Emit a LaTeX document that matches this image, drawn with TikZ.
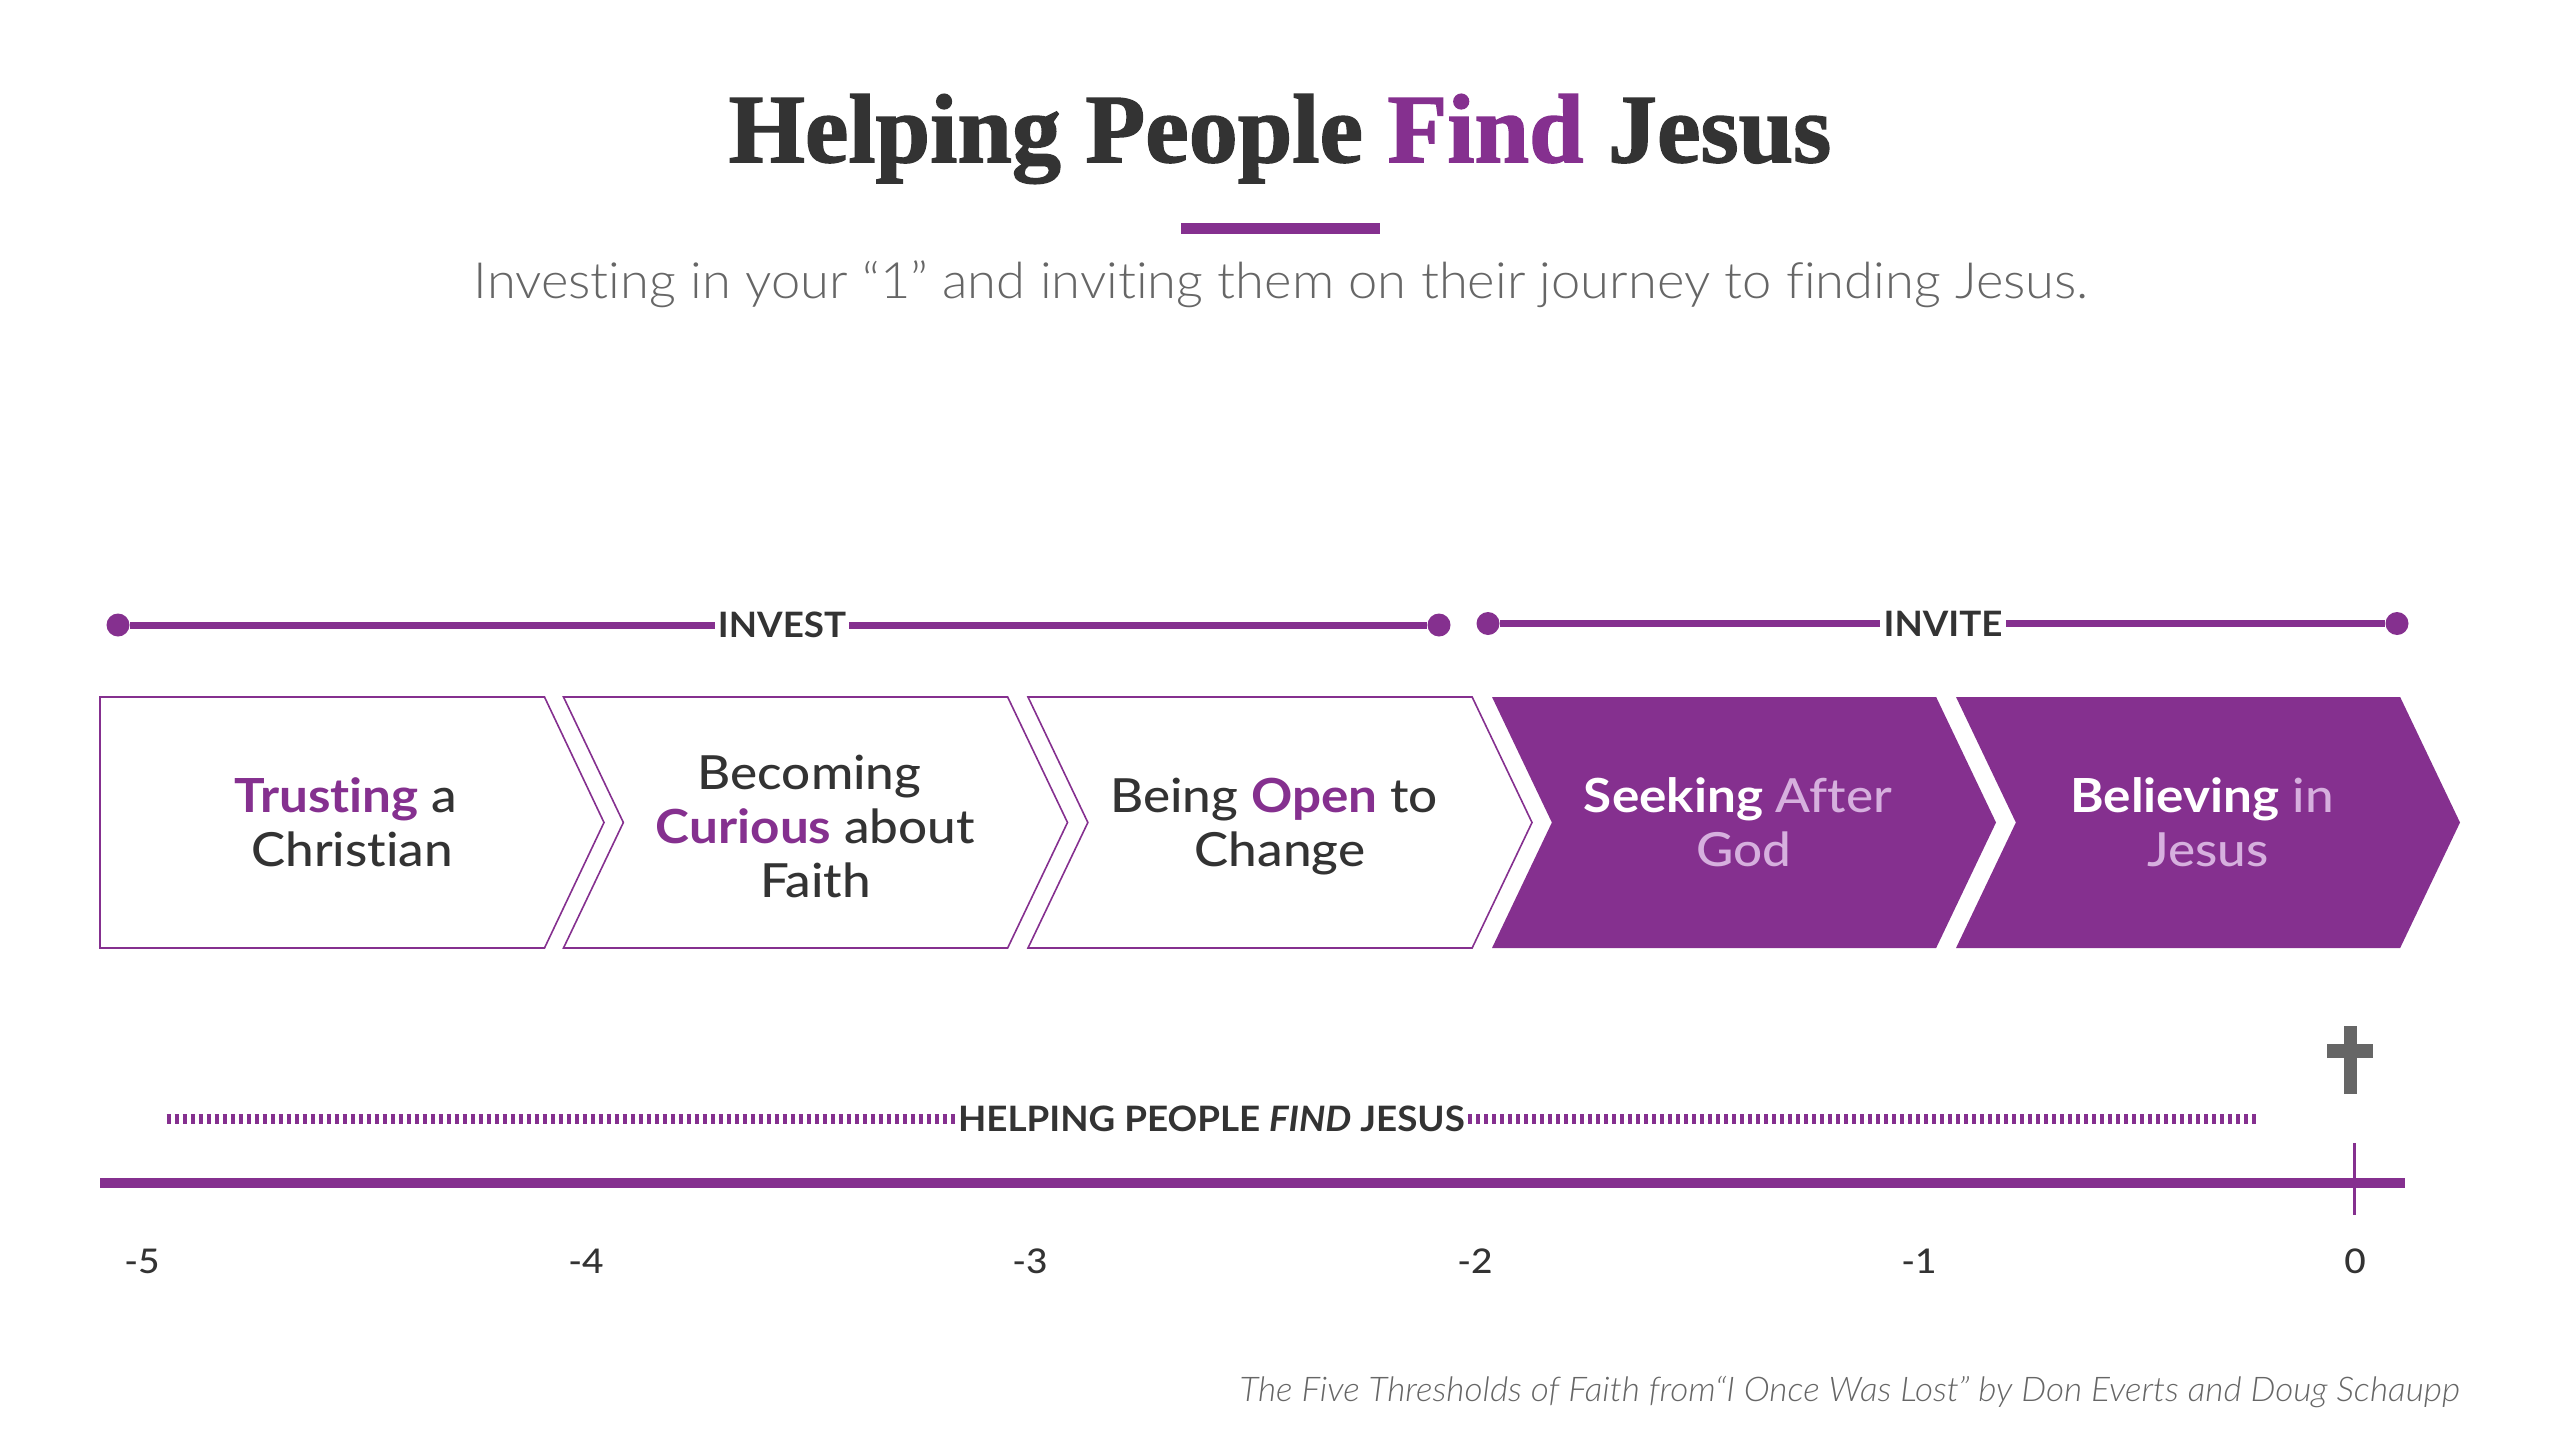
\documentclass[tikz,border=0pt]{standalone}
\usepackage{fontspec}
\usepackage{xcolor}
\usetikzlibrary{shapes,positioning}
\setmainfont{Lato}[Ligatures=NoCommon]
\newfontfamily\titlefont{Liberation Serif}[BoldFeatures={FakeBold=1.5}]
\newfontfamily\lightfont{Lato Light}[FakeStretch=1.05,Ligatures=NoCommon]
\newfontfamily\creditfont{Lato Light}[FakeStretch=1.035,Ligatures=NoCommon]
\newfontfamily\mediumfont{Lato Medium}[FakeStretch=1.09,Ligatures=NoCommon,BoldFont={Lato Bold}]
\newfontfamily\capsfont{Lato Bold}[FakeStretch=1.05,Ligatures=NoCommon]
\definecolor{faith}{HTML}{85308F}
\definecolor{pale}{HTML}{D6B0DE}
\definecolor{ink}{HTML}{333333}
\definecolor{ash}{HTML}{666666}
\newcommand{\brk}{\hspace*{6pt}\\}
\newcommand{\hi}[1]{\textcolor{faith}{\bfseries #1}}
\newcommand{\lo}[1]{\textcolor{pale}{#1}}
\tikzset{
  words/.style={inner sep=0pt,align=center,text=ink,text depth=0pt,font=\mediumfont\fontsize{23.5}{27}\selectfont},
  stage/.style={words,signal,signal to=east,signal from=west,signal pointer angle=129,minimum width=252pt,minimum height=125.5pt},
  open/.style={stage,draw=faith,line width=0.8pt},
  solid stage/.style={stage,fill=faith,text=white},
  dot/.style={circle,fill=faith,inner sep=0pt,minimum size=11.5pt},
  span/.style={faith,line width=3.5pt},
  stripes/.style={faith,line width=5pt,dash pattern=on 2pt off 2pt},
  caption/.style={inner sep=1.5pt,text=ink,font=\capsfont\fontsize{17.5}{20}\selectfont},
  tick/.style={text=ink,font=\mediumfont\fontsize{17}{20}\selectfont}
}
\begin{document}
\begin{tikzpicture}[x=0.5pt,y=-0.5pt]
    \useasboundingbox (0,0) rectangle (2560,1440);

    \node[text=ink,font=\titlefont\bfseries\fontsize{49}{55}\selectfont] (title) at (1280,139) {Helping People \textcolor{faith}{Find} Jesus};
    \node[fill=faith,inner sep=0pt,minimum width=99.5pt,minimum height=5.5pt] (rule) at (1280.5,228.5) {};
    \node[text=ash,font=\lightfont\fontsize{25}{30}\selectfont] (sub) at (1281,284.5) {Investing in your “1” and inviting them on their journey to finding Jesus.};

    \node[dot] (investl) at (118,625) {};
    \node[dot] (investr) at (1439,625) {};
    \node[caption] (invest) at (782,625) {INVEST};
    \node[dot] (invitel) at (1488,623.5) {};
    \node[dot] (inviter) at (2397,623.5) {};
    \node[caption] (invite) at (1943,623.5) {INVITE};
    \draw [span] (investl) to (invest);
    \draw [span] (invest) to (investr);
    \draw [span] (invitel) to (invite);
    \draw [span] (invite) to (inviter);

    \draw [faith,line width=0.8pt] (100,697) -- (544.5,697) -- (604,822.5) -- (544.5,948) -- (100,948) -- cycle;
    \node[words] (trust) at (352,822.5) {\hi{Trusting} a\brk Christian};
    \node[open] (curious) at (815.5,822.5) {\rule{0pt}{21pt}Becoming\brk \hi{Curious} about\brk Faith};
    \node[open] (change) at (1280,822.5) {Being \hi{Open} to\brk Change};
    \node[solid stage] (seek) at (1744,822.5) {\textbf{Seeking} \lo{After}\brk \lo{God}};
    \node[solid stage] (believe) at (2208,822.5) {\textbf{Believing} \lo{in}\brk \lo{Jesus}};

    \node[fill=ash,inner sep=0pt,minimum width=6.5pt,minimum height=34pt] (crossv) at (2350.5,1060) {};
    \node[fill=ash,inner sep=0pt,minimum width=23pt,minimum height=7pt] (crossh) at (2350,1051) {};

    \node[caption] (find) at (1211.5,1119) {HELPING PEOPLE \textit{FIND} JESUS};
    \coordinate (dashl) at (166.5,1119);
    \coordinate (dashr) at (2257,1119);
    \draw [stripes] (dashl) to (find);
    \draw [stripes] (find) to (dashr);

    \coordinate (axisl) at (100,1183);
    \coordinate (axisr) at (2405,1183);
    \coordinate (zerot) at (2354,1143);
    \coordinate (zerob) at (2354,1215);
    \draw [faith,line width=5pt] (axisl) to (axisr);
    \draw [faith,line width=1.5pt] (zerot) to (zerob);

    \node[tick] (m5) at (142,1261) {-5};
    \node[tick] (m4) at (586,1261) {-4};
    \node[tick] (m3) at (1030,1261) {-3};
    \node[tick] (m2) at (1475,1261) {-2};
    \node[tick] (m1) at (1919,1261) {-1};
    \node[tick] (z0) at (2355,1261) {0};

    \node[anchor=base east,inner sep=0pt,text=ash,font=\creditfont\itshape\fontsize{17}{20}\selectfont] (credit) at (2460,1401) {The Five Thresholds of Faith from“I Once Was Lost” by Don Everts and Doug Schaupp};
\end{tikzpicture}
\end{document}
